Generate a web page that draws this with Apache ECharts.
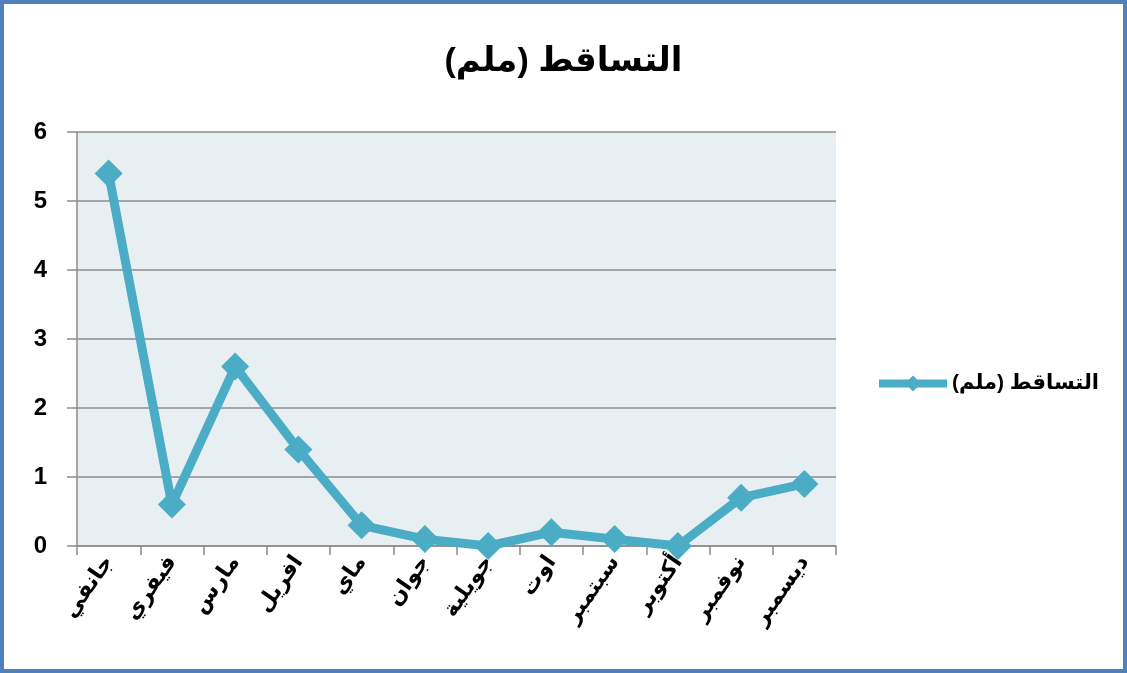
<!DOCTYPE html>
<html>
<head>
<meta charset="utf-8">
<script src="https://cdn.jsdelivr.net/npm/echarts@6/dist/echarts.min.js"></script>
<style>
  html, body { margin: 0; padding: 0; background: #fff; }
  #chart { width: 1127px; height: 673px; box-sizing: border-box; border: 4px solid #4F81BD; }
</style>
</head>
<body>
<div id="chart"></div>
<script>
  // الأشهر
  var months = ['جانفي', 'فيفري', 'مارس', 'افريل', 'ماي', 'جوان', 'جويلية', 'اوت', 'سبتمبر', 'أكتوبر', 'نوفمبر', 'ديسمبر'];
  // التساقط (ملم)
  var rain = [5.4, 0.6, 2.6, 1.4, 0.3, 0.1, 0, 0.2, 0.1, 0, 0.7, 0.9];
  var seriesName = 'التساقط (ملم)';
  var font = 'Arial, "Liberation Sans", "DejaVu Sans", sans-serif';

  var myChart = echarts.init(document.getElementById('chart'));
  var option = {
    animation: false,
    title: {
      text: seriesName,
      left: 'center',
      top: 36,
      textStyle: { color: '#000', fontWeight: 'bold', fontSize: 34, fontFamily: font }
    },
    legend: {
      orient: 'vertical',
      left: 866,
      top: 364,
      itemWidth: 68,
      itemHeight: 20,
      itemGap: 4,
      lineStyle: { width: 8, color: '#4BACC6' },
      textStyle: { color: '#000', fontWeight: 'bold', fontSize: 21, fontFamily: font },
      data: [seriesName]
    },
    grid: {
      left: 73,
      right: 287,
      top: 128,
      bottom: 123,
      show: true,
      backgroundColor: '#E8EFF3',
      borderWidth: 0
    },
    xAxis: {
      type: 'category',
      data: months,
      boundaryGap: true,
      axisLine: { lineStyle: { color: '#8C8C8C', width: 1.5 } },
      axisTick: { show: true, length: 9, lineStyle: { color: '#8C8C8C', width: 1.5 } },
      axisLabel: {
        interval: 0,
        rotate: 55,
        margin: 12,
        color: '#000',
        fontWeight: 'bold',
        fontSize: 22,
        fontFamily: font
      }
    },
    yAxis: {
      type: 'value',
      min: 0,
      max: 6,
      interval: 1,
      axisLine: { show: true, lineStyle: { color: '#8C8C8C', width: 1.5 } },
      axisTick: { show: true, length: 10, lineStyle: { color: '#8C8C8C', width: 1.5 } },
      splitLine: { show: true, lineStyle: { color: '#8C8C8C', width: 1.5 } },
      axisLabel: {
        margin: 30,
        color: '#000',
        fontWeight: 'bold',
        fontSize: 24,
        fontFamily: font
      }
    },
    series: [
      {
        name: seriesName,
        type: 'line',
        data: rain,
        symbol: 'diamond',
        symbolSize: 28,
        lineStyle: { color: '#4BACC6', width: 9 },
        itemStyle: { color: '#4BACC6' }
      }
    ]
  };
  myChart.setOption(option);
</script>
</body>
</html>
